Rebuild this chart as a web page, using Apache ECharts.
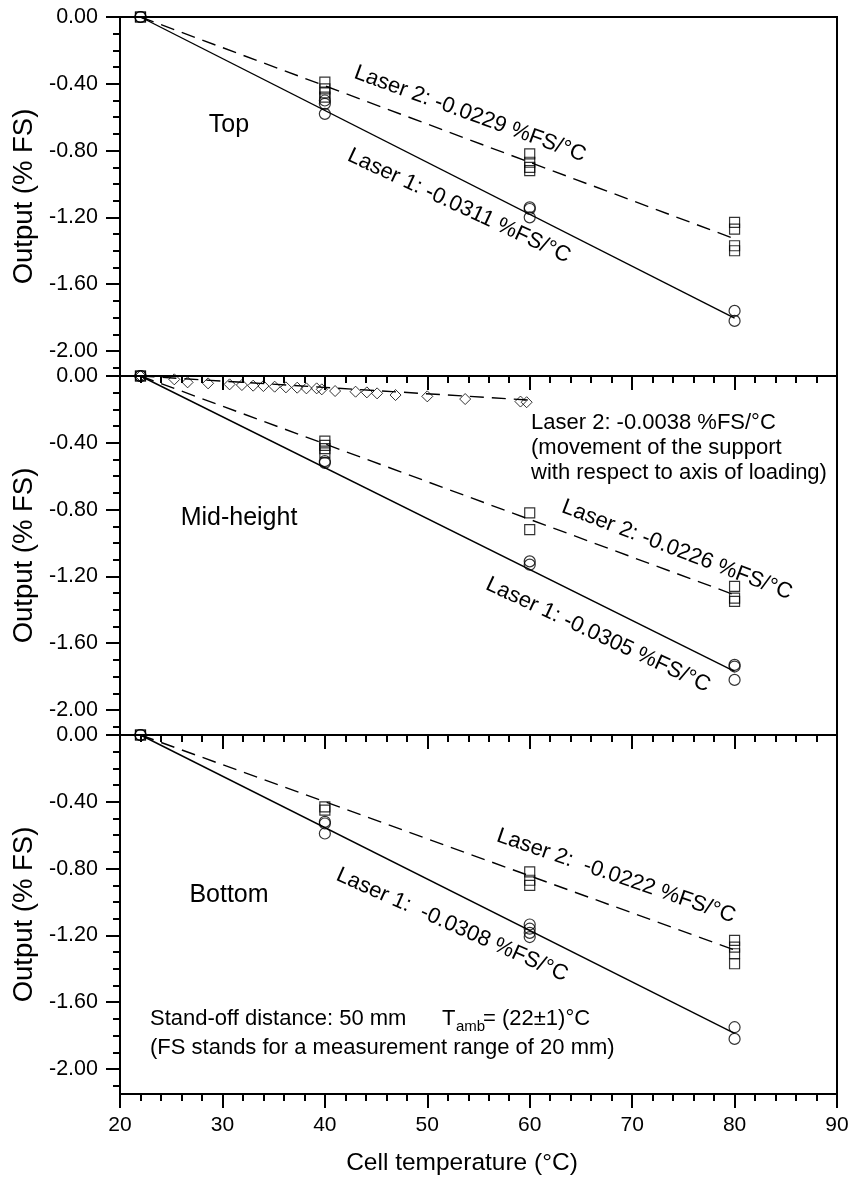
<!DOCTYPE html>
<html>
<head>
<meta charset="utf-8">
<script src="https://cdn.jsdelivr.net/npm/echarts@6/dist/echarts.min.js"></script>
<style>
  html, body { margin: 0; padding: 0; background: #fff; }
  #chart { width: 852px; height: 1194px; }
</style>
</head>
<body>
<div id="chart"></div>
<script>
// Temperature drift of the laser displacement sensors at three cell heights.
const FONT = '"Liberation Sans", Arial, sans-serif';

const panelNames = ['Top', 'Mid-height', 'Bottom'];

// Fitted drift slopes (%FS per °C) for each panel: top, mid-height, bottom
const laser1Slopes = [-0.0311, -0.0305, -0.0308];
const laser2Slopes = [-0.0229, -0.0226, -0.0222];
const supportSlope = -0.0038;
const fitStartT = 22;
const fitEndT = 80;
const supportEndT = 60;

// Measured outputs [temperature °C, output %FS] — Laser 1 (circles)
const topLaser1 = [[22, 0], [22, 0], [40, -0.50], [40, -0.52], [40, -0.58],
  [60, -1.14], [60, -1.15], [60, -1.20], [80, -1.76], [80, -1.82]];
const midLaser1 = [[22, 0], [22, 0], [40, -0.51], [40, -0.52],
  [60, -1.11], [60, -1.13], [80, -1.73], [80, -1.74], [80, -1.82]];
const bottomLaser1 = [[22, 0], [22, 0], [40, -0.52], [40, -0.53], [40, -0.59],
  [60, -1.135], [60, -1.16], [60, -1.185], [60, -1.21], [80, -1.75], [80, -1.82]];

// Laser 2 (squares)
const topLaser2 = [[22, 0], [22, 0], [40, -0.39], [40, -0.43], [40, -0.455], [40, -0.48],
  [60, -0.82], [60, -0.87], [60, -0.90], [60, -0.92],
  [80, -1.23], [80, -1.27], [80, -1.37], [80, -1.40]];
const midLaser2 = [[22, 0], [22, 0], [40, -0.39], [40, -0.415], [40, -0.435], [40, -0.46],
  [60, -0.82], [60, -0.92], [80, -1.26], [80, -1.33], [80, -1.35]];
const bottomLaser2 = [[22, 0], [22, 0], [40, -0.43], [40, -0.45],
  [60, -0.82], [60, -0.87], [60, -0.90],
  [80, -1.23], [80, -1.27], [80, -1.31], [80, -1.37]];

// Laser 2 reading of the support movement (diamonds), mid-height panel
const supportT = [22, 25.3, 26.6, 28.6, 30.7, 31.9, 33.0, 34.0, 35.1, 36.2, 37.3, 38.2,
  39.2, 39.7, 41.0, 43.0, 44.1, 45.1, 46.9, 50.0, 53.7, 59.1, 59.7];
const supportOut = [0, -0.020, -0.038, -0.044, -0.050, -0.054, -0.058, -0.060, -0.064,
  -0.068, -0.070, -0.074, -0.074, -0.080, -0.090, -0.094, -0.098, -0.104, -0.114,
  -0.122, -0.138, -0.153, -0.157];

// Axis ticks
const yMajorTicks = [0, -0.4, -0.8, -1.2, -1.6, -2.0];
const yMinorTicks = [-0.1, -0.2, -0.3, -0.5, -0.6, -0.7, -0.9, -1.0, -1.1,
  -1.3, -1.4, -1.5, -1.7, -1.8, -1.9, -2.1];

const laser1Data = [topLaser1, midLaser1, bottomLaser1];
const laser2Data = [topLaser2, midLaser2, bottomLaser2];

const chart = echarts.init(document.getElementById('chart'), null, { renderer: 'canvas' });

const PANEL_TOP = 17, PANEL_H = 359;

const grids = [], xAxes = [], yAxes = [], series = [];
const black = '#000';

for (let i = 0; i < 3; i++) {
  grids.push({
    left: 120, right: 15, top: PANEL_TOP + i * PANEL_H, height: PANEL_H,
    show: true, borderColor: black, borderWidth: 2, backgroundColor: 'transparent'
  });
  xAxes.push({
    gridIndex: i, type: 'value', min: 20, max: 90, interval: 10, position: 'bottom',
    axisLine: { show: true, onZero: false, lineStyle: { color: black, width: 2 } },
    axisTick: { show: true, length: 14, lineStyle: { color: black, width: 2 } },
    minorTick: { show: true, splitNumber: 5, length: 7, lineStyle: { color: black, width: 2 } },
    splitLine: { show: false }, minorSplitLine: { show: false },
    axisLabel: { show: i === 2, color: black, fontSize: 21, fontFamily: FONT, margin: 21 }
  });
  // major ticks + labels
  yAxes.push({
    gridIndex: i, type: 'value', min: -2.15, max: 0, position: 'left',
    axisLine: { show: true, onZero: false, lineStyle: { color: black, width: 2 } },
    axisTick: { show: true, customValues: yMajorTicks, length: 14, lineStyle: { color: black, width: 2 } },
    axisLabel: {
      show: true, customValues: yMajorTicks, color: black, fontSize: 21.5, fontFamily: FONT, margin: 22,
      formatter: v => (Math.abs(v) < 1e-9 ? 0 : v).toFixed(2)
    },
    splitLine: { show: false },
    name: 'Output (% FS)', nameLocation: 'middle', nameGap: 74,
    nameTextStyle: { color: black, fontSize: 27.5, fontFamily: FONT }
  });
  // minor ticks
  yAxes.push({
    gridIndex: i, type: 'value', min: -2.15, max: 0, position: 'left',
    axisLine: { show: false, onZero: false },
    axisTick: { show: true, customValues: yMinorTicks, length: 7, lineStyle: { color: black, width: 2 } },
    axisLabel: { show: false },
    splitLine: { show: false }
  });

  const yIdx = 2 * i;
  // fitted lines
  series.push({
    type: 'line', xAxisIndex: i, yAxisIndex: yIdx, symbol: 'none', z: 2, silent: true,
    data: [[fitStartT, 0], [fitEndT, laser1Slopes[i] * (fitEndT - fitStartT)]],
    lineStyle: { color: black, width: 1.4, type: 'solid' }
  });
  series.push({
    type: 'line', xAxisIndex: i, yAxisIndex: yIdx, symbol: 'none', z: 2, silent: true,
    data: [[fitStartT, 0], [fitEndT, laser2Slopes[i] * (fitEndT - fitStartT)]],
    lineStyle: { color: black, width: 1.4, type: [14, 8] }
  });
  // measurements
  series.push({
    type: 'scatter', xAxisIndex: i, yAxisIndex: yIdx, symbol: 'circle', symbolSize: 11, z: 3,
    clip: false, data: laser1Data[i],
    itemStyle: { color: 'rgba(0,0,0,0)', borderColor: black, borderWidth: 1.2 }
  });
  series.push({
    type: 'scatter', xAxisIndex: i, yAxisIndex: yIdx, symbol: 'rect', symbolSize: 10, z: 3,
    clip: false, data: laser2Data[i],
    itemStyle: { color: 'rgba(0,0,0,0)', borderColor: black, borderWidth: 1.2 }
  });
}

// support movement (mid-height)
series.push({
  type: 'line', xAxisIndex: 1, yAxisIndex: 2, symbol: 'none', z: 2, silent: true,
  data: [[fitStartT, 0], [supportEndT, supportSlope * (supportEndT - fitStartT)]],
  lineStyle: { color: black, width: 1.4, type: [14, 8] }
});
series.push({
  type: 'scatter', xAxisIndex: 1, yAxisIndex: 2, symbol: 'diamond', symbolSize: 11, z: 3,
  clip: false, data: supportT.map((t, k) => [t, supportOut[k]]),
  itemStyle: { color: 'rgba(0,0,0,0)', borderColor: black, borderWidth: 1 }
});

// text annotations
const fmt = s => s.toFixed(4);
const rotLabels = [
  { text: 'Laser 2: ' + fmt(laser2Slopes[0]) + ' %FS/°C', x: 470, y: 114, angle: 20 },
  { text: 'Laser 1: ' + fmt(laser1Slopes[0]) + ' %FS/°C', x: 459, y: 206, angle: 25 },
  { text: 'Laser 2: ' + fmt(laser2Slopes[1]) + ' %FS/°C', x: 677, y: 550, angle: 21 },
  { text: 'Laser 1: ' + fmt(laser1Slopes[1]) + ' %FS/°C', x: 598, y: 635, angle: 25 },
  { text: 'Laser 2:  ' + fmt(laser2Slopes[2]) + ' %FS/°C', x: 616, y: 876, angle: 19 },
  { text: 'Laser 1:  ' + fmt(laser1Slopes[2]) + ' %FS/°C', x: 452, y: 925, angle: 24 }
];
const panelLabelPos = [[229, 125], [239, 518], [229, 895]];

const graphic = [];
rotLabels.forEach(l => graphic.push({
  type: 'text', x: l.x, y: l.y, rotation: -l.angle * Math.PI / 180, z: 10,
  style: { text: l.text, fill: black, fontSize: 22, fontFamily: FONT, align: 'center', verticalAlign: 'middle' }
}));
panelNames.forEach((n, k) => graphic.push({
  type: 'text', x: panelLabelPos[k][0], y: panelLabelPos[k][1], z: 10,
  style: { text: n, fill: black, fontSize: 25, fontFamily: FONT, align: 'center', verticalAlign: 'middle' }
}));
const plainText = (text, x, y, size, align) => ({
  type: 'text', x: x, y: y, z: 10,
  style: { text: text, fill: black, fontSize: size, fontFamily: FONT, align: align || 'left', verticalAlign: 'middle' }
});
graphic.push(plainText('Laser 2: ' + fmt(supportSlope) + ' %FS/°C', 531, 423, 22));
graphic.push(plainText('(movement of the support', 531, 448, 22));
graphic.push(plainText('with respect to axis of loading)', 531, 473, 22));
graphic.push(plainText('Stand-off distance: 50 mm', 150, 1019, 22));
graphic.push(plainText('T', 442, 1019, 22));
graphic.push(plainText('amb', 456, 1027, 15));
graphic.push(plainText('= (22±1)°C', 483, 1019, 22));
graphic.push(plainText('(FS stands for a measurement range of 20 mm)', 150, 1048, 22));
// x-axis title
graphic.push(plainText('Cell temperature (°C)', 462, 1163, 24.5, 'center'));

chart.setOption({
  animation: false,
  backgroundColor: '#fff',
  textStyle: { fontFamily: FONT },
  grid: grids,
  xAxis: xAxes,
  yAxis: yAxes,
  series: series,
  graphic: graphic
});
</script>
</body>
</html>
